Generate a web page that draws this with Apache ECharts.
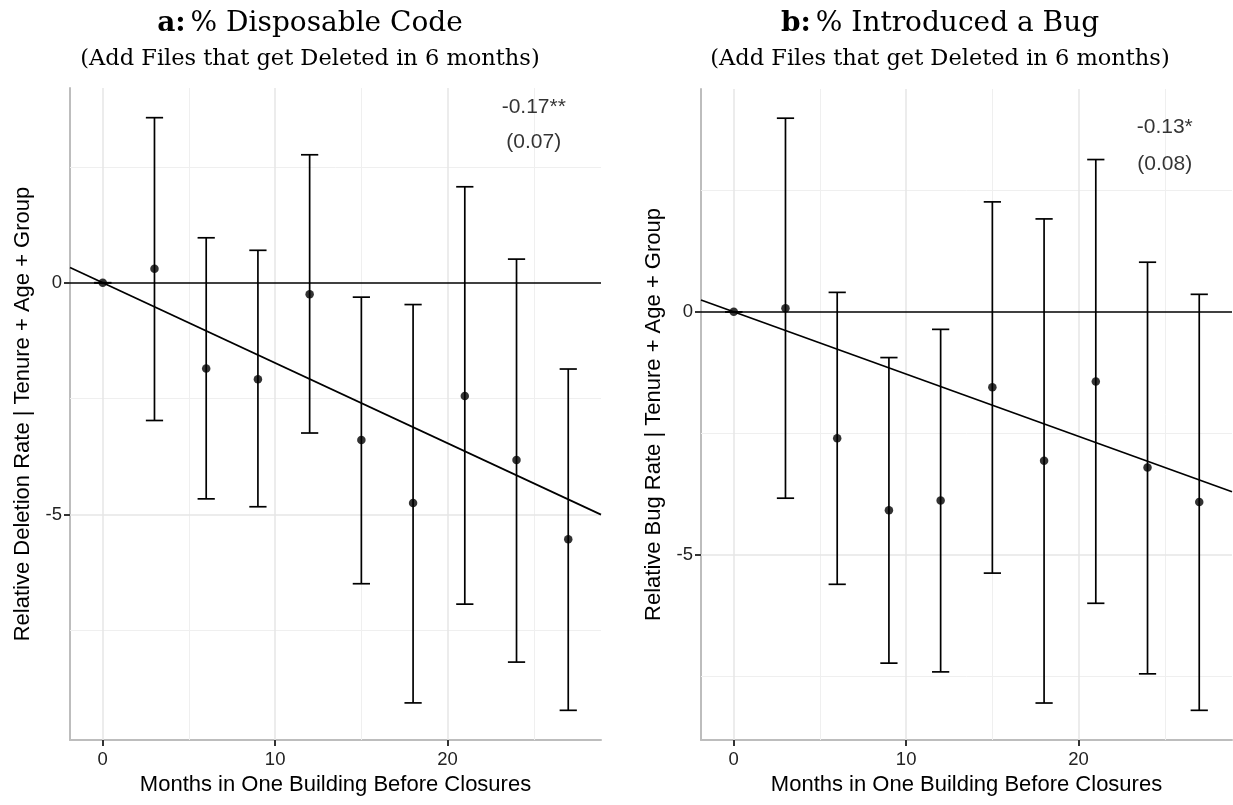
<!DOCTYPE html>
<html>
<head>
<meta charset="utf-8">
<script src="https://cdn.jsdelivr.net/npm/echarts@6/dist/echarts.min.js"></script>
<style>html,body{margin:0;padding:0;background:#fff}#c{width:1233px;height:805px}</style>
</head>
<body>
<div id="c"></div>
<script>
// ---- data ----
const months = [0, 3, 6, 9, 12, 15, 18, 21, 24, 27];

const delEst   = [0, 0.30, -1.85, -2.08, -0.25, -3.39, -4.75, -2.44, -3.82, -5.53];
const delUpper = [0, 3.56, 0.97, 0.70, 2.76, -0.31, -0.47, 2.07, 0.51, -1.86];
const delLower = [0, -2.97, -4.66, -4.83, -3.24, -6.49, -9.06, -6.93, -8.18, -9.22];

const bugEst   = [0, 0.075, -2.60, -4.08, -3.88, -1.55, -3.06, -1.43, -3.20, -3.91];
const bugUpper = [0, 3.98, 0.40, -0.94, -0.36, 2.26, 1.91, 3.13, 1.02, 0.36];
const bugLower = [0, -3.83, -5.60, -7.22, -7.40, -5.37, -8.04, -5.99, -7.44, -8.19];

const slopes = [-0.173, -0.128];
const slopeLabels = ['-0.17**', '-0.13*'];
const seLabels = ['(0.07)', '(0.08)'];

const xTicks = [0, 10, 20];
const yTicks = [-5, 0];
const xMajorGrid = [0, 10, 20];
const xMinorGrid = [5, 15, 25];
const yMajorGrid = [-5];
const yMinorGrid = [-7.5, -2.5, 2.5];

const titles = ['a:', 'b:'];
const titleRest = ['% Disposable Code', '% Introduced a Bug'];
const subtitle = '(Add Files that get Deleted in 6 months)';
const yNames = ['Relative Deletion Rate | Tenure + Age + Group', 'Relative Bug Rate | Tenure + Age + Group'];
const xName = 'Months in One Building Before Closures';

const xRange = [-1.9, 28.9];
const yRanges = [[-9.86, 4.2], [-8.8, 4.58]];

// ---- build ----
const SANS = 'Liberation Sans, Arial, Helvetica, sans-serif';
const SERIF = 'DejaVu Serif, serif';
const grids = [
  {left: 70, top: 88, width: 531, height: 652},
  {left: 701, top: 89, width: 531, height: 651}
];
const titleCenters = [305, 935];

const chart = echarts.init(document.getElementById('c'), null, {renderer: 'canvas'});

const xAxes = [], yAxes = [], series = [], titleArr = [];
const panels = [
  {est: delEst, up: delUpper, lo: delLower},
  {est: bugEst, up: bugUpper, lo: bugLower}
];

panels.forEach((p, i) => {
  titleArr.push({
    text: '{b|' + titles[i] + '} {r|' + titleRest[i] + '}',
    subtext: subtitle,
    left: titleCenters[i], top: 5, textAlign: 'center',
    itemGap: 10,
    textStyle: {
      rich: {
        b: {fontFamily: SERIF, fontWeight: 'bold', fontSize: 28, color: '#000'},
        r: {fontFamily: SERIF, fontWeight: 'normal', fontSize: 28, color: '#000'}
      }
    },
    subtextStyle: {fontFamily: SERIF, fontSize: 22.5, color: '#000'}
  });
  xAxes.push({
    type: 'value', gridIndex: i, min: xRange[0], max: xRange[1],
    name: xName, nameLocation: 'middle', nameGap: 34,
    nameTextStyle: {fontFamily: SANS, fontSize: 22, color: '#000'},
    splitLine: {show: false},
    axisLine: {show: true, onZero: false, lineStyle: {color: '#bdbdbd', width: 2}},
    axisTick: {show: true, customValues: xTicks, length: 6, lineStyle: {color: '#333', width: 2}},
    axisLabel: {customValues: xTicks, fontFamily: SANS, fontSize: 18.5, color: '#222', margin: 10}
  });
  yAxes.push({
    type: 'value', gridIndex: i, min: yRanges[i][0], max: yRanges[i][1],
    name: yNames[i], nameLocation: 'middle', nameGap: 36,
    nameTextStyle: {fontFamily: SANS, fontSize: 22, color: '#000'},
    splitLine: {show: false},
    axisLine: {show: true, onZero: false, lineStyle: {color: '#bdbdbd', width: 2}},
    axisTick: {show: true, customValues: yTicks, length: 6, lineStyle: {color: '#333', width: 2}},
    axisLabel: {customValues: yTicks, fontFamily: SANS, fontSize: 18.5, color: '#222', margin: 8}
  });

  const gridLines = [];
  xMinorGrid.forEach(v => gridLines.push({xAxis: v, lineStyle: {color: '#efefef', width: 1, type: 'solid'}}));
  yMinorGrid.forEach(v => gridLines.push({yAxis: v, lineStyle: {color: '#efefef', width: 1, type: 'solid'}}));
  xMajorGrid.forEach(v => gridLines.push({xAxis: v, lineStyle: {color: '#e6e6e6', width: 1.5, type: 'solid'}}));
  yMajorGrid.forEach(v => gridLines.push({yAxis: v, lineStyle: {color: '#e6e6e6', width: 1.5, type: 'solid'}}));

  // grid lines
  series.push({
    type: 'scatter', xAxisIndex: i, yAxisIndex: i, data: [], z: 1, silent: true,
    markLine: {z: 1, silent: true, symbol: ['none', 'none'], label: {show: false}, animation: false, data: gridLines}
  });
  // zero line
  series.push({
    type: 'scatter', xAxisIndex: i, yAxisIndex: i, data: [], z: 3, silent: true,
    markLine: {z: 3, silent: true, symbol: ['none', 'none'], label: {show: false}, animation: false,
      data: [{yAxis: 0, lineStyle: {color: '#000', width: 1.7, type: 'solid'}}]}
  });
  // fit line
  series.push({
    type: 'line', xAxisIndex: i, yAxisIndex: i, z: 4, silent: true, symbol: 'none',
    lineStyle: {color: '#000', width: 1.7},
    data: [[xRange[0], slopes[i] * xRange[0]], [xRange[1], slopes[i] * xRange[1]]],
    animation: false
  });
  // error bars
  series.push({
    type: 'custom', xAxisIndex: i, yAxisIndex: i, z: 5, silent: true, animation: false,
    data: months.map((m, k) => [m, p.lo[k], p.up[k]]),
    renderItem: function (params, api) {
      const x = api.value(0), lo = api.value(1), hi = api.value(2);
      const a = api.coord([x, hi]), b = api.coord([x, lo]);
      const hw = api.size([0.5, 0])[0];
      const st = {stroke: '#000', lineWidth: 1.7};
      return {type: 'group', children: [
        {type: 'line', shape: {x1: a[0], y1: a[1], x2: b[0], y2: b[1]}, style: st},
        {type: 'line', shape: {x1: a[0] - hw, y1: a[1], x2: a[0] + hw, y2: a[1]}, style: st},
        {type: 'line', shape: {x1: b[0] - hw, y1: b[1], x2: b[0] + hw, y2: b[1]}, style: st}
      ]};
    }
  });
  // points
  series.push({
    type: 'scatter', xAxisIndex: i, yAxisIndex: i, z: 6, silent: true, animation: false,
    symbol: 'circle', symbolSize: 8.5, itemStyle: {color: '#000'},
    data: months.map((m, k) => [m, p.est[k]])
  });
  // annotation
  series.push({
    type: 'scatter', xAxisIndex: i, yAxisIndex: i, z: 7, silent: true, animation: false,
    symbolSize: 0,
    data: [
      {value: [25, 3.79], name: slopeLabels[i]},
      {value: [25, 3.03], name: seLabels[i]}
    ],
    label: {show: true, position: 'inside', formatter: d => d.name,
      fontFamily: SANS, fontSize: 21, color: '#000'}
  });
});

chart.setOption({
  backgroundColor: '#fff',
  animation: false,
  title: titleArr,
  grid: grids,
  xAxis: xAxes,
  yAxis: yAxes,
  series: series
});
</script>
</body>
</html>
